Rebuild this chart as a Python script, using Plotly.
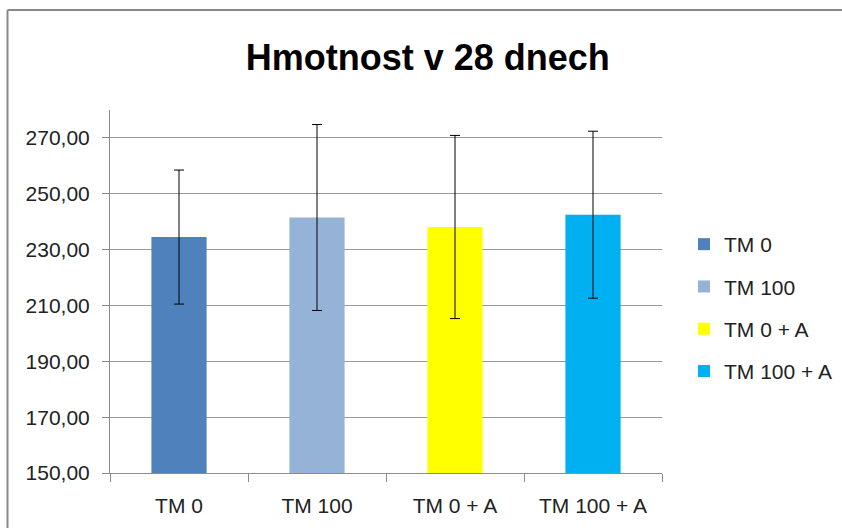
import plotly.graph_objects as go

categories = ["TM 0", "TM 100", "TM 0 + A", "TM 100 + A"]
values = [234.5, 241.5, 238.1, 242.5]
errors = [24.0, 33.3, 32.8, 29.9]
colors = ["#4F81BD", "#95B3D7", "#FFFF00", "#00B0F0"]
y_ticks = [150, 170, 190, 210, 230, 250, 270]
y_tick_labels = ["150,00", "170,00", "190,00", "210,00", "230,00", "250,00", "270,00"]

FONT = "Liberation Sans"

fig = go.Figure()
for cat, val, err, col in zip(categories, values, errors, colors):
    fig.add_trace(go.Bar(
        x=[cat], y=[val], name=cat, legendgroup=cat,
        marker=dict(color=col, line=dict(width=0)),
        width=0.4,
        error_y=dict(type="data", array=[err], visible=True,
                     color="black", thickness=1, width=5),
    ))

fig.update_layout(
    width=842, height=528,
    margin=dict(l=110, r=180, t=110, b=55),
    paper_bgcolor="white", plot_bgcolor="white",
    barmode="overlay",
    title=dict(text="<b>Hmotnost v 28 dnech</b>", x=0.508, xanchor="center",
               y=0.892, yanchor="middle",
               font=dict(family=FONT, size=36, color="black")),
    font=dict(family=FONT, size=21, color="#222222"),
    legend=dict(xref="container", yref="container",
                x=684 / 842, xanchor="left", y=1 - 224 / 528, yanchor="top",
                tracegroupgap=12, font=dict(size=21, color="#222222"),
                itemclick=False),
    showlegend=True,
)

fig.update_xaxes(
    type="category", categoryorder="array", categoryarray=categories,
    showline=True, linecolor="#8c8c8c", linewidth=1,
    ticks="outside", tickson="boundaries", ticklen=8, tickcolor="#8c8c8c",
    ticklabelstandoff=14,
    showgrid=False, tickfont=dict(size=21, color="#222222"),
)
fig.update_yaxes(
    range=[150, 280], tickvals=y_ticks, ticktext=y_tick_labels,
    showline=True, linecolor="#8c8c8c", linewidth=1,
    ticks="outside", ticklen=7, tickcolor="#8c8c8c",
    ticklabelstandoff=8,
    showgrid=True, gridcolor="#9a9a9a", gridwidth=1,
    zeroline=False, tickfont=dict(size=21, color="#222222"),
)

# outer chart frame (top and left edges visible)
fig.add_shape(type="line", xref="paper", yref="paper",
              x0=-0.1857, y0=1.2755, x1=1.33, y1=1.2755,
              line=dict(color="#888888", width=2))
fig.add_shape(type="line", xref="paper", yref="paper",
              x0=-0.1857, y0=1.2755, x1=-0.1857, y1=-0.16,
              line=dict(color="#888888", width=2))

fig.write_html("out.html", config={"displayModeBar": False},
               post_script="document.body.style.margin='0px';")
